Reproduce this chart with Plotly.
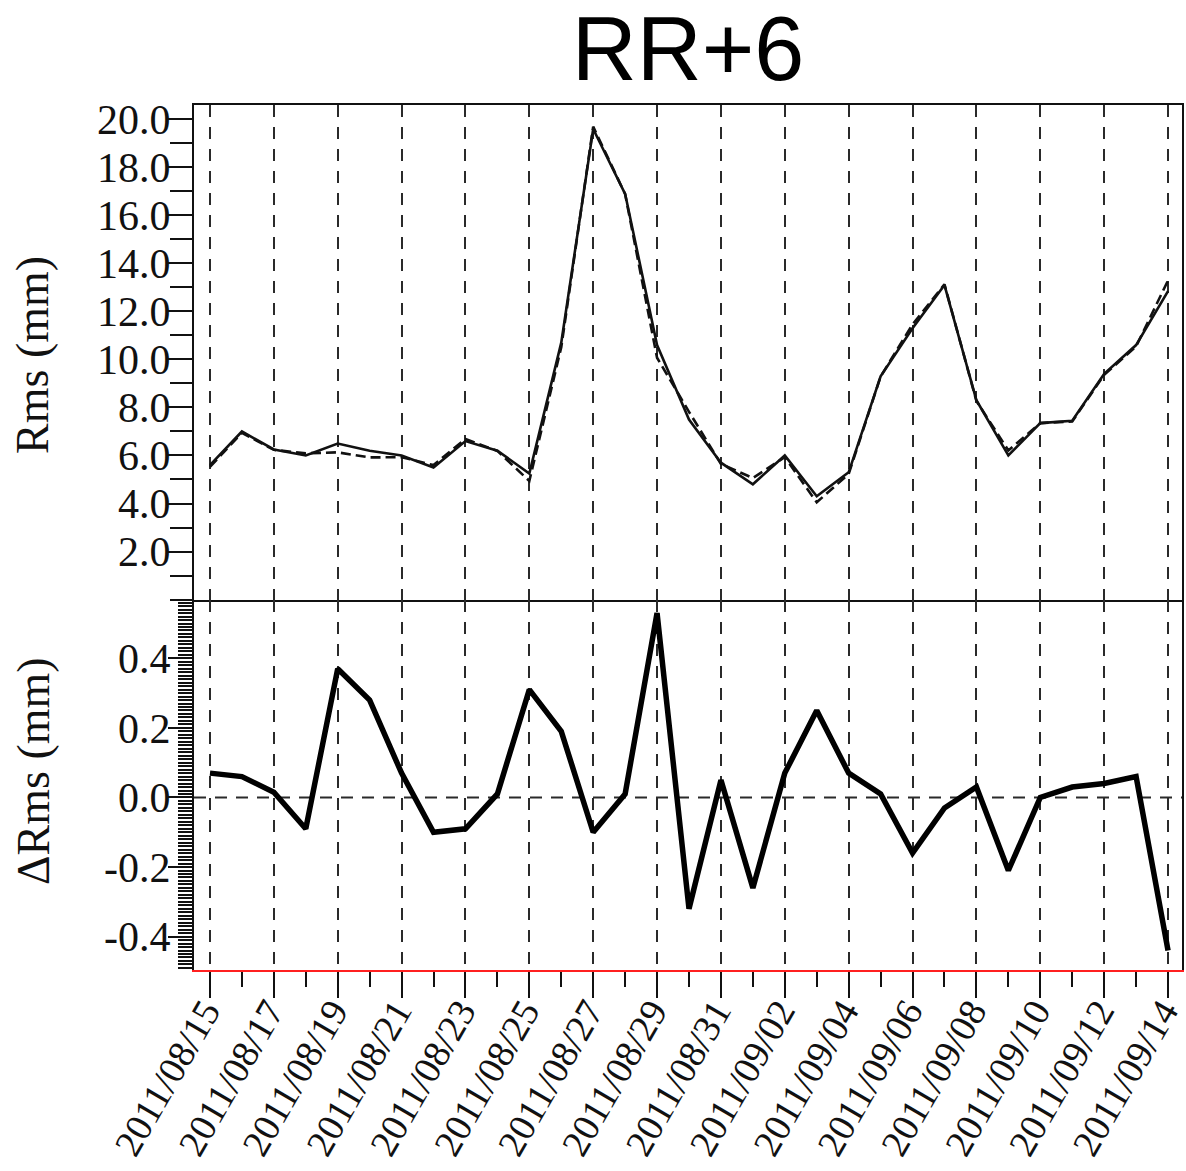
import plotly.graph_objects as go
from plotly.subplots import make_subplots

# Daily epochs, 2011/08/15 .. 2011/09/14
dates = [
    "2011-08-15", "2011-08-16", "2011-08-17", "2011-08-18", "2011-08-19",
    "2011-08-20", "2011-08-21", "2011-08-22", "2011-08-23", "2011-08-24",
    "2011-08-25", "2011-08-26", "2011-08-27", "2011-08-28", "2011-08-29",
    "2011-08-30", "2011-08-31", "2011-09-01", "2011-09-02", "2011-09-03",
    "2011-09-04", "2011-09-05", "2011-09-06", "2011-09-07", "2011-09-08",
    "2011-09-09", "2011-09-10", "2011-09-11", "2011-09-12", "2011-09-13",
    "2011-09-14",
]

# RMS of the first solution (solid line), mm
rms_a = [5.60, 7.00, 6.25, 6.00, 6.50, 6.20, 6.00, 5.50, 6.60, 6.20,
         5.25, 10.70, 19.60, 16.90, 10.60, 7.50, 5.70, 4.80, 6.00, 4.30,
         5.30, 9.30, 11.30, 13.10, 8.30, 6.00, 7.35, 7.45, 9.40, 10.60,
         12.85]

# RMS of the second solution (dashed line), mm
rms_b = [5.53, 6.94, 6.235, 6.09, 6.13, 5.92, 5.93, 5.60, 6.69, 6.19,
         4.94, 10.51, 19.70, 16.89, 10.07, 7.82, 5.65, 5.06, 5.93, 4.05,
         5.23, 9.29, 11.46, 13.13, 8.27, 6.21, 7.35, 7.42, 9.36, 10.54,
         13.29]

# Difference of the two RMS series, mm
d_rms = [0.07, 0.06, 0.015, -0.09, 0.37, 0.28, 0.07, -0.10, -0.09, 0.01,
         0.31, 0.19, -0.10, 0.01, 0.53, -0.32, 0.05, -0.26, 0.07, 0.25,
         0.07, 0.01, -0.16, -0.03, 0.03, -0.21, 0.00, 0.03, 0.04, 0.06,
         -0.44]

# Tick labels
top_tick_vals = [2, 4, 6, 8, 10, 12, 14, 16, 18, 20]
top_tick_text = ["2.0", "4.0", "6.0", "8.0", "10.0", "12.0", "14.0", "16.0", "18.0", "20.0"]
bot_tick_vals = [-0.4, -0.3, -0.2, -0.1, 0.0, 0.1, 0.2, 0.3, 0.4, 0.5]
bot_tick_text = ["-0.4", "", "-0.2", "", "0.0", "", "0.2", "", "0.4", ""]

title_text = "RR+6"
top_ylabel = "Rms (mm)"
bot_ylabel = "\u0394Rms (mm)"

SERIF = "Liberation Serif, Times New Roman, serif"
SANS = "Liberation Sans, Arial, sans-serif"
INK = "#111111"
GRID = "#2a2a2a"
DAY_MS = 86400000

# fine 0.01 mm ticks along the difference axis
bot_minor_vals = [round(k / 100, 2) for k in range(-49, 57)]

fig = make_subplots(rows=2, cols=1, shared_xaxes=True, vertical_spacing=0,
                    row_heights=[0.5717, 0.4283])

fig.add_trace(go.Scatter(x=dates, y=rms_b, mode="lines",
                         line=dict(color=INK, width=2.6, dash="10px,5px"),
                         showlegend=False), row=1, col=1)
fig.add_trace(go.Scatter(x=dates, y=rms_a, mode="lines",
                         line=dict(color=INK, width=2.6),
                         showlegend=False), row=1, col=1)
fig.add_trace(go.Scatter(x=dates, y=d_rms, mode="lines",
                         line=dict(color="#000000", width=5.5),
                         showlegend=False), row=2, col=1)

# dashed zero reference in the difference panel
fig.add_shape(type="line", xref="x2 domain", yref="y2", x0=0, x1=1, y0=0, y1=0,
              line=dict(color=GRID, width=2, dash="12px,9px"), layer="below")

x_range = ["2011-08-14 12:00", "2011-09-14 10:30"]
grid_common = dict(showgrid=True, gridcolor=GRID, gridwidth=2, griddash="12px,10px",
                   tick0="2011-08-15", dtick=2 * DAY_MS, range=x_range,
                   zeroline=False, automargin=False)

fig.update_xaxes(row=1, col=1, showline=True, linecolor=INK, linewidth=2,
                 mirror=True, ticks="", showticklabels=False, **grid_common)
fig.update_xaxes(row=2, col=1, showline=True, linecolor="#ff2020", linewidth=2,
                 mirror=False, ticks="outside", ticklen=26, tickwidth=2,
                 tickcolor=INK, tickformat="%Y/%m/%d", tickangle=-60,
                 ticklabeloverflow="allow", ticklabelstandoff=-24,
                 ticklabelshift=-5,
                 tickfont=dict(family=SERIF, size=38, color=INK),
                 minor=dict(dtick=DAY_MS, ticks="outside", ticklen=15,
                            tickwidth=2, tickcolor=INK, showgrid=False),
                 **grid_common)

fig.update_yaxes(row=1, col=1, range=[0, 20.6], showgrid=False, zeroline=False,
                 automargin=False,
                 showline=True, linecolor=INK, linewidth=2, mirror=True,
                 ticks="outside", ticklen=24, tickwidth=2, tickcolor=INK,
                 tickmode="array", tickvals=top_tick_vals, ticktext=top_tick_text,
                 ticklabelstandoff=-11,
                 tickfont=dict(family=SERIF, size=42, color=INK),
                 minor=dict(tickmode="linear", dtick=1, tick0=0, ticks="outside",
                            ticklen=22, tickwidth=2, tickcolor=INK, showgrid=False))
fig.update_yaxes(row=2, col=1, range=[-0.496, 0.569], showgrid=False, zeroline=False,
                 automargin=False,
                 showline=True, linecolor=INK, linewidth=2, mirror=True,
                 ticks="outside", ticklen=24, tickwidth=2, tickcolor=INK,
                 tickmode="array", tickvals=bot_tick_vals, ticktext=bot_tick_text,
                 ticklabelstandoff=-11,
                 tickfont=dict(family=SERIF, size=42, color=INK),
                 minor=dict(tickmode="array", tickvals=bot_minor_vals, ticks="outside",
                            ticklen=14, tickwidth=2, tickcolor=INK, showgrid=False))

fig.add_annotation(text=top_ylabel, xref="paper", yref="paper", x=-0.163, y=0.711,
                   xanchor="center", yanchor="middle", textangle=-90, showarrow=False,
                   font=dict(family=SERIF, size=46, color=INK))
fig.add_annotation(text=bot_ylabel, xref="paper", yref="paper", x=-0.163, y=0.230,
                   xanchor="center", yanchor="middle", textangle=-90, showarrow=False,
                   font=dict(family=SERIF, size=46, color=INK))

fig.update_layout(
    width=1186, height=1171,
    margin=dict(l=194, r=4, t=105, b=201, autoexpand=False),
    paper_bgcolor="white", plot_bgcolor="white",
    title=dict(text=title_text, x=0.5, xref="paper", xanchor="center",
               y=1 - 48 / 1171, yref="container", yanchor="middle",
               font=dict(family=SANS, size=90, color="#000000")),
    showlegend=False,
)

fig.write_html("out.html")
